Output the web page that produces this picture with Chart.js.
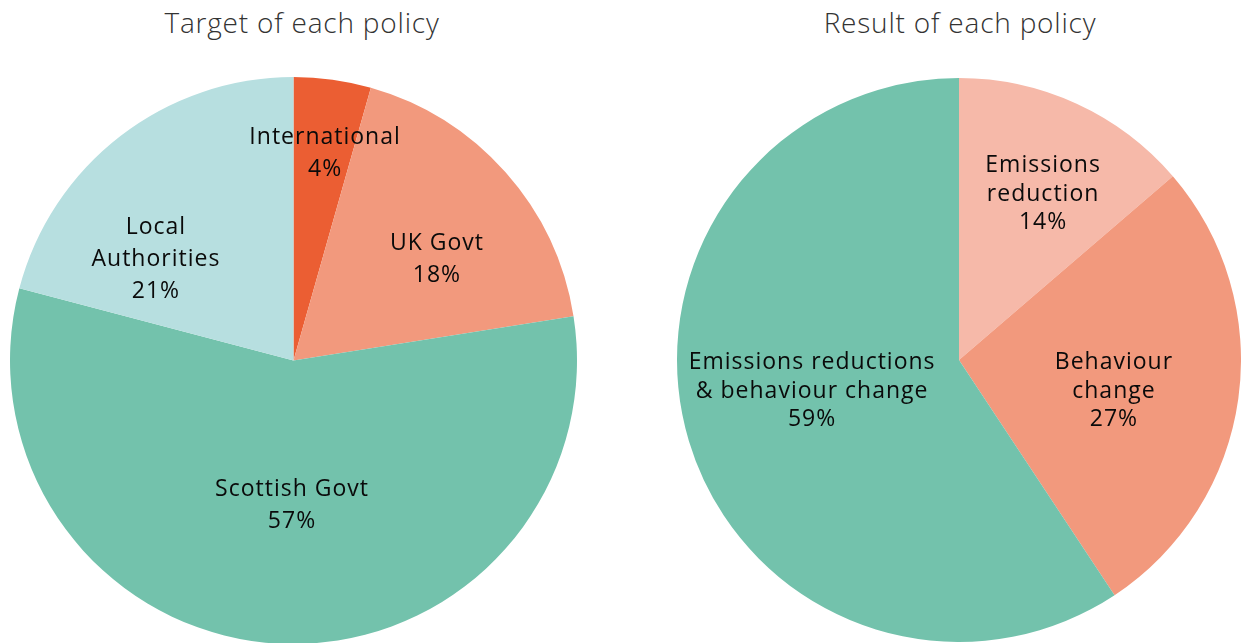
<!DOCTYPE html>
<html>
<head>
<meta charset="utf-8">
<script src="https://cdn.jsdelivr.net/npm/chart.js@4.4.1/dist/chart.umd.min.js"></script>
<style>
  html, body { margin: 0; padding: 0; background: #fff; overflow: hidden; }
  body { width: 1241px; height: 643px; position: relative; font-family: "Open Sans", sans-serif; }
  .title { position: absolute; top: 3px; font-size: 28px; font-weight: 300; letter-spacing: 0.8px; color: #333; text-align: center; width: 400px; }
  .wrap { position: absolute; }
</style>
</head>
<body>
<div class="title" style="left:102px">Target of each policy</div>
<div class="title" style="left:760px">Result of each policy</div>
<div class="wrap" style="left:10px; top:77px; width:567px; height:567px"><canvas id="target"></canvas></div>
<div class="wrap" style="left:677px; top:78px; width:564px; height:564px"><canvas id="result"></canvas></div>
<script>
// data
const targetLabels = ['International', 'UK Govt', 'Scottish Govt', 'Local Authorities'];
const targetValues = [4.4, 18.1, 56.6, 20.9];
const targetLines = [['International'], ['UK Govt'], ['Scottish Govt'], ['Local', 'Authorities']];

const resultLabels = ['Emissions reduction', 'Behaviour change', 'Emissions reductions & behaviour change'];
const resultValues = [13.7, 27.0, 59.3];
const resultLines = [['Emissions', 'reduction'], ['Behaviour', 'change'], ['Emissions reductions', '& behaviour change']];

// label placement: [angle from top clockwise in degrees, fraction of radius]
const targetLabelPos = [[8.6, 0.745], [54.3, 0.623], [180.6, 0.505], [306.8, 0.606]];
const resultLabelPos = [[26.6, 0.666], [100.6, 0.559], [258.8, 0.531]];

const sliceLabels = {
  id: 'sliceLabels',
  afterDatasetsDraw(chart, args, opts) {
    const ctx = chart.ctx;
    const meta = chart.getDatasetMeta(0);
    const values = chart.data.datasets[0].data;
    ctx.save();
    ctx.fillStyle = '#0a0a0a';
    ctx.font = opts.font;
    ctx.letterSpacing = '1px';
    ctx.textAlign = 'center';
    ctx.textBaseline = 'middle';
    meta.data.forEach((arc, i) => {
      const { x, y, outerRadius } = arc.getProps(['x', 'y', 'outerRadius'], true);
      const [deg, frac] = opts.positions[i];
      const a = deg * Math.PI / 180;
      const cx = x + Math.sin(a) * outerRadius * frac;
      const cy = y - Math.cos(a) * outerRadius * frac + 2;
      const lines = opts.lines[i].concat([Math.round(values[i]) + '%']);
      const top = cy - (lines.length - 1) * opts.lineHeight / 2;
      lines.forEach((t, j) => ctx.fillText(t, cx, top + j * opts.lineHeight));
    });
    ctx.restore();
  }
};

const makePie = (id, labels, values, colors, lines, positions, lineHeight) => {
  return new Chart(document.getElementById(id), {
    type: 'pie',
    data: {
      labels: labels,
      datasets: [{
        data: values,
        backgroundColor: colors,
        borderWidth: 0,
        hoverOffset: 0,
        offset: 0,
      }],
    },
    options: {
      responsive: true,
      maintainAspectRatio: false,
      animation: false,
      layout: { padding: 0 },
      plugins: {
        legend: { display: false },
        tooltip: { enabled: false },
        sliceLabels: {
          font: '400 23px "Open Sans", sans-serif',
          lines: lines,
          positions: positions,
          lineHeight: lineHeight,
        },
      },
    },
    plugins: [sliceLabels],
  });
};

makePie('target', targetLabels, targetValues,
  ['#EB5E33', '#F2997D', '#73C2AC', '#B7DFE0'], targetLines, targetLabelPos, 32);
makePie('result', resultLabels, resultValues,
  ['#F6B9A9', '#F2997D', '#73C2AC'], resultLines, resultLabelPos, 28.5);
</script>
</body>
</html>
